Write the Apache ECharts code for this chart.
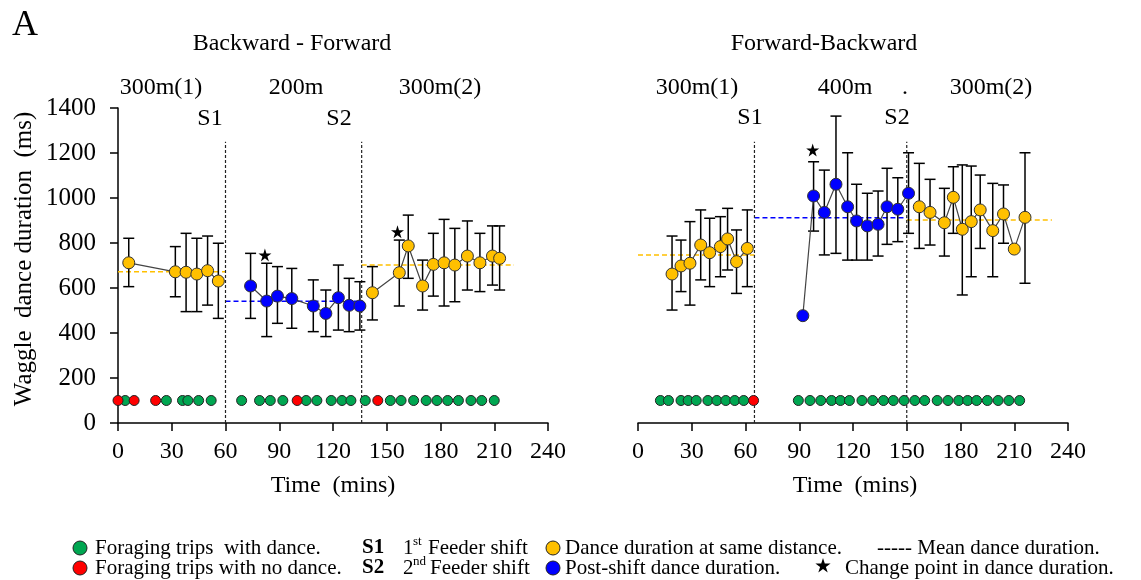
<!DOCTYPE html>
<html>
<head>
<meta charset="utf-8">
<title>Waggle dance duration</title>
<script src="https://cdn.jsdelivr.net/npm/echarts/dist/echarts.min.js"></script>
<style>
  html, body { margin: 0; padding: 0; background: #fff; }
  #chart { width: 1141px; height: 580px; }
</style>
</head>
<body>
<div id="chart"></div>
<script>
// ---- data: [time (min), mean (ms), lower, upper] ----
// Backward - Forward
const bfPre = [
  [6, 712, 606, 821], [32, 672, 561, 784], [38, 670, 495, 843],
  [44, 662, 495, 821], [50, 677, 524, 831], [56, 631, 465, 799]
]
const bfShift = [
  [74, 609, 465, 754], [83, 542, 384, 710], [89, 564, 443, 695],
  [97, 553, 421, 687], [109, 520, 406, 636], [116, 487, 384, 591],
  [123, 557, 413, 702], [129, 523, 406, 643], [135, 520, 413, 628]
]
const bfPost = [
  [142, 579, 458, 695], [157, 668, 520, 813], [162, 787, 643, 924],
  [170, 609, 502, 724], [176, 705, 564, 843], [182, 712, 520, 905],
  [188, 702, 539, 865], [195, 742, 591, 898], [202, 712, 584, 843],
  [209, 742, 613, 876], [213, 732, 591, 876]
]
// Forward - Backward
const fbPre = [
  [19, 662, 502, 831], [24, 698, 584, 813], [29, 710, 524, 895],
  [35, 791, 636, 947], [40, 757, 606, 910], [46, 784, 650, 917],
  [50, 818, 680, 954], [55, 717, 576, 858], [61, 776, 606, 947]
]
const fbShift = [
  [92, 477, null, null], [98, 1009, 853, 1161], [104, 936, 747, 1124],
  [110.5, 1061, 754, 1364], [117, 961, 724, 1201], [122, 898, 724, 1061],
  [128, 876, 724, 1021], [134, 883, 742, 1031], [139, 961, 794, 1132],
  [145, 950, 806, 1090], [151, 1021, 843, 1201]
]
const fbPost = [
  [157, 961, 776, 1154], [163, 936, 791, 1083], [171, 890, 742, 1043],
  [176, 1003, 843, 1139], [181, 861, 569, 1147], [186, 895, 650, 1142],
  [191, 947, 776, 1102], [198, 855, 650, 1065], [204, 929, 799, 1058],
  [210, 773, null, null], [216, 914, 621, 1201]
]

// mean dance duration per phase: [from, to, mean]
const bfMeansSame = [[0, 60, 672], [136, 221, 702]]
const bfMeansShift = [[60, 136, 541]]
const fbMeansSame = [[0, 65, 747], [150, 231, 902]]
const fbMeansShift = [[65, 150, 912]]

// feeder shifts (min)
const bfShifts = [60, 136]
const fbShifts = [65, 150]

// foraging trips (min)
const bfTripsDance = [4, 27, 36, 39, 45, 52, 69, 79, 85, 92, 105, 111, 119, 125, 130, 138,
  152, 158, 165, 172, 178, 184, 190, 197, 203, 210]
const bfTripsNoDance = [0, 9, 21, 100, 145]
const fbTripsDance = [12.5, 17, 24, 28, 32.5, 39, 44, 49, 54, 59, 89.5, 96, 102, 108, 113,
  118, 125, 131, 137, 142.5, 148.5, 154.5, 160, 167, 173, 179, 184, 189, 195, 201, 207, 213]
const fbTripsNoDance = [64.5]
const tripLevel = 100

// change points (star marks)
const bfStars = [[82, 747], [156, 850]]
const fbStars = [[97.5, 1213]]

// axes
const xTicks = [0, 240, 30]   // min, max, interval
const yTicks = [0, 1400, 200]

const YELLOW = '#FFC000'
const BLUE = '#0000FF'
const GREEN = '#00A651'
const RED = '#FF0000'
const FONT = '"Liberation Serif", "DejaVu Serif", serif'

document.addEventListener('DOMContentLoaded', function () {
  const myChart = echarts.init(document.getElementById('chart'), null, { renderer: 'canvas' })

  // error bars with caps
  function errorBars(rows, idx) {
    return {
      type: 'custom',
      xAxisIndex: idx,
      yAxisIndex: idx,
      z: 2,
      silent: true,
      encode: { x: 0, y: [1, 2] },
      data: rows.filter(r => r[2] != null).map(r => [r[0], r[2], r[3]]),
      renderItem: function (params, api) {
        const lo = api.coord([api.value(0), api.value(1)])
        const hi = api.coord([api.value(0), api.value(2)])
        const w = 5.5
        const st = { stroke: '#000', lineWidth: 1.5 }
        return {
          type: 'group',
          children: [
            { type: 'line', shape: { x1: lo[0], y1: lo[1], x2: hi[0], y2: hi[1] }, style: st },
            { type: 'line', shape: { x1: lo[0] - w, y1: lo[1], x2: lo[0] + w, y2: lo[1] }, style: st },
            { type: 'line', shape: { x1: hi[0] - w, y1: hi[1], x2: hi[0] + w, y2: hi[1] }, style: st }
          ]
        }
      }
    }
  }

  function points(rows, idx, color) {
    return {
      type: 'line',
      xAxisIndex: idx,
      yAxisIndex: idx,
      z: 4,
      data: rows.map(r => [r[0], r[1]]),
      symbol: 'circle',
      symbolSize: 12,
      itemStyle: { color: color, borderColor: '#333', borderWidth: 1 },
      lineStyle: { color: '#444', width: 1.2 }
    }
  }

  function means(list, idx, color) {
    return list.map(m => ({
      type: 'line',
      xAxisIndex: idx,
      yAxisIndex: idx,
      z: 1,
      symbol: 'none',
      data: [[m[0], m[2]], [m[1], m[2]]],
      lineStyle: { color: color, width: 1.5, type: [5, 3] }
    }))
  }

  function shifts(list, idx) {
    return list.map(t => ({
      type: 'line',
      xAxisIndex: idx,
      yAxisIndex: idx,
      z: 1,
      symbol: 'none',
      data: [[t, 0], [t, 1250]],
      lineStyle: { color: '#222', width: 1.2, type: [3, 2] }
    }))
  }

  function trips(list, idx, color) {
    return {
      type: 'scatter',
      xAxisIndex: idx,
      yAxisIndex: idx,
      z: 3,
      symbolSize: 10,
      data: list.map(t => [t, tripLevel]),
      itemStyle: { color: color, borderColor: '#222', borderWidth: 1, opacity: 1 }
    }
  }

  const starPath = 'path://M0,-10L2.2,-3.1L9.5,-3.1L3.6,1.2L5.9,8.1L0,3.8L-5.9,8.1L-3.6,1.2L-9.5,-3.1L-2.2,-3.1Z'
  function stars(list, idx) {
    return {
      type: 'scatter',
      xAxisIndex: idx,
      yAxisIndex: idx,
      z: 5,
      symbol: starPath,
      symbolSize: 13,
      data: list,
      itemStyle: { color: '#000', opacity: 1 }
    }
  }

  const axisLineStyle = { color: '#000', width: 1.5 }
  function xAxis(idx) {
    return {
      type: 'value',
      gridIndex: idx,
      min: xTicks[0],
      max: xTicks[1],
      interval: xTicks[2],
      axisLine: { show: true, lineStyle: axisLineStyle },
      axisTick: { show: true, length: 8, lineStyle: axisLineStyle },
      splitLine: { show: false },
      axisLabel: { color: '#000', fontFamily: FONT, fontSize: 24, margin: 17, formatter: v => String(v) }
    }
  }
  function yAxis(idx, visible) {
    return {
      type: 'value',
      gridIndex: idx,
      min: yTicks[0],
      max: yTicks[1],
      interval: yTicks[2],
      show: visible,
      axisLine: { show: true, lineStyle: axisLineStyle },
      axisTick: { show: true, length: 8, lineStyle: axisLineStyle },
      splitLine: { show: false },
      axisLabel: { color: '#000', fontFamily: FONT, fontSize: 25, margin: 22, formatter: v => String(v) }
    }
  }

  // texts
  function txt(x, y, s, size, extra) {
    return Object.assign({
      type: 'text', x: x, y: y, silent: true,
      style: { text: s, font: size + 'px ' + FONT, fill: '#000', textAlign: 'center', textVerticalAlign: 'middle' }
    }, extra || {})
  }
  function ltxt(x, y, s, size, weight) {
    return {
      type: 'text', x: x, y: y, silent: true,
      style: { text: s, font: (weight || 'normal') + ' ' + size + 'px ' + FONT, fill: '#000', textAlign: 'left', textVerticalAlign: 'middle' }
    }
  }
  function dot(x, y, color) {
    return { type: 'circle', shape: { cx: x, cy: y, r: 7 }, style: { fill: color, stroke: '#222', lineWidth: 1 }, silent: true }
  }
  function starShape(cx, cy, r) {
    const pts = []
    for (let i = 0; i < 10; i++) {
      const a = -Math.PI / 2 + i * Math.PI / 5
      const rr = i % 2 === 0 ? r : r * 0.38
      pts.push([cx + rr * Math.cos(a), cy + rr * Math.sin(a)])
    }
    return { type: 'polygon', shape: { points: pts }, style: { fill: '#000' }, silent: true }
  }

  const LF = 21
  const graphics = [
    ltxt(12, 26, 'A', 36),
    txt(292, 44, 'Backward - Forward', 24),
    txt(824, 44, 'Forward-Backward', 24),
    txt(161, 88, '300m(1)', 24), txt(296, 88, '200m', 24), txt(440, 88, '300m(2)', 24),
    txt(210, 119, 'S1', 24), txt(339, 119, 'S2', 24),
    txt(697, 88, '300m(1)', 24), txt(845, 88, '400m', 24), txt(905, 88, '.', 24), txt(991, 88, '300m(2)', 24),
    txt(750, 118, 'S1', 24), txt(897, 118, 'S2', 24),
    txt(24, 259, 'Waggle  dance duration  (ms)', 25, { rotation: Math.PI / 2 }),
    txt(333, 486, 'Time  (mins)', 24), txt(855, 486, 'Time  (mins)', 24),
    // legend row 1
    dot(80, 548, GREEN), ltxt(95, 548, 'Foraging trips  with dance.', LF),
    ltxt(362, 548, 'S1', LF, 'bold'), ltxt(403, 548, '1', LF), ltxt(413, 542, 'st', 13), ltxt(428, 548, 'Feeder shift', LF),
    dot(553, 548, YELLOW), ltxt(565, 548, 'Dance duration at same distance.', LF),
    ltxt(877, 548, '----- Mean dance duration.', LF),
    // legend row 2
    dot(80, 568, RED), ltxt(95, 568, 'Foraging trips with no dance.', LF),
    ltxt(362, 568, 'S2', LF, 'bold'), ltxt(403, 568, '2', LF), ltxt(413, 562, 'nd', 13), ltxt(430, 568, 'Feeder shift', LF),
    dot(553, 568, BLUE), ltxt(565, 568, 'Post-shift dance duration.', LF),
    starShape(823, 566, 8), ltxt(845, 568, 'Change point in dance duration.', LF)
  ]

  const option = {
    animation: false,
    backgroundColor: '#fff',
    grid: [
      { left: 118, top: 108, width: 430, height: 315, containLabel: false, outerBoundsMode: 'none' },
      { left: 638, top: 108, width: 430, height: 315, containLabel: false, outerBoundsMode: 'none' }
    ],
    xAxis: [xAxis(0), xAxis(1)],
    yAxis: [yAxis(0, true), yAxis(1, false)],
    graphic: { elements: graphics },
    series: [
      ...means(bfMeansSame, 0, YELLOW), ...means(bfMeansShift, 0, BLUE),
      ...means(fbMeansSame, 1, YELLOW), ...means(fbMeansShift, 1, BLUE),
      ...shifts(bfShifts, 0), ...shifts(fbShifts, 1),
      errorBars(bfPre, 0), errorBars(bfShift, 0), errorBars(bfPost, 0),
      errorBars(fbPre, 1), errorBars(fbShift, 1), errorBars(fbPost, 1),
      points(bfPre, 0, YELLOW), points(bfShift, 0, BLUE), points(bfPost, 0, YELLOW),
      points(fbPre, 1, YELLOW), points(fbShift, 1, BLUE), points(fbPost, 1, YELLOW),
      trips(bfTripsDance, 0, GREEN), trips(bfTripsNoDance, 0, RED),
      trips(fbTripsDance, 1, GREEN), trips(fbTripsNoDance, 1, RED),
      stars(bfStars, 0), stars(fbStars, 1)
    ]
  }

  myChart.setOption(option)

  window.addEventListener('resize', function () {
    myChart.resize()
  })
})
</script>
</body>
</html>
